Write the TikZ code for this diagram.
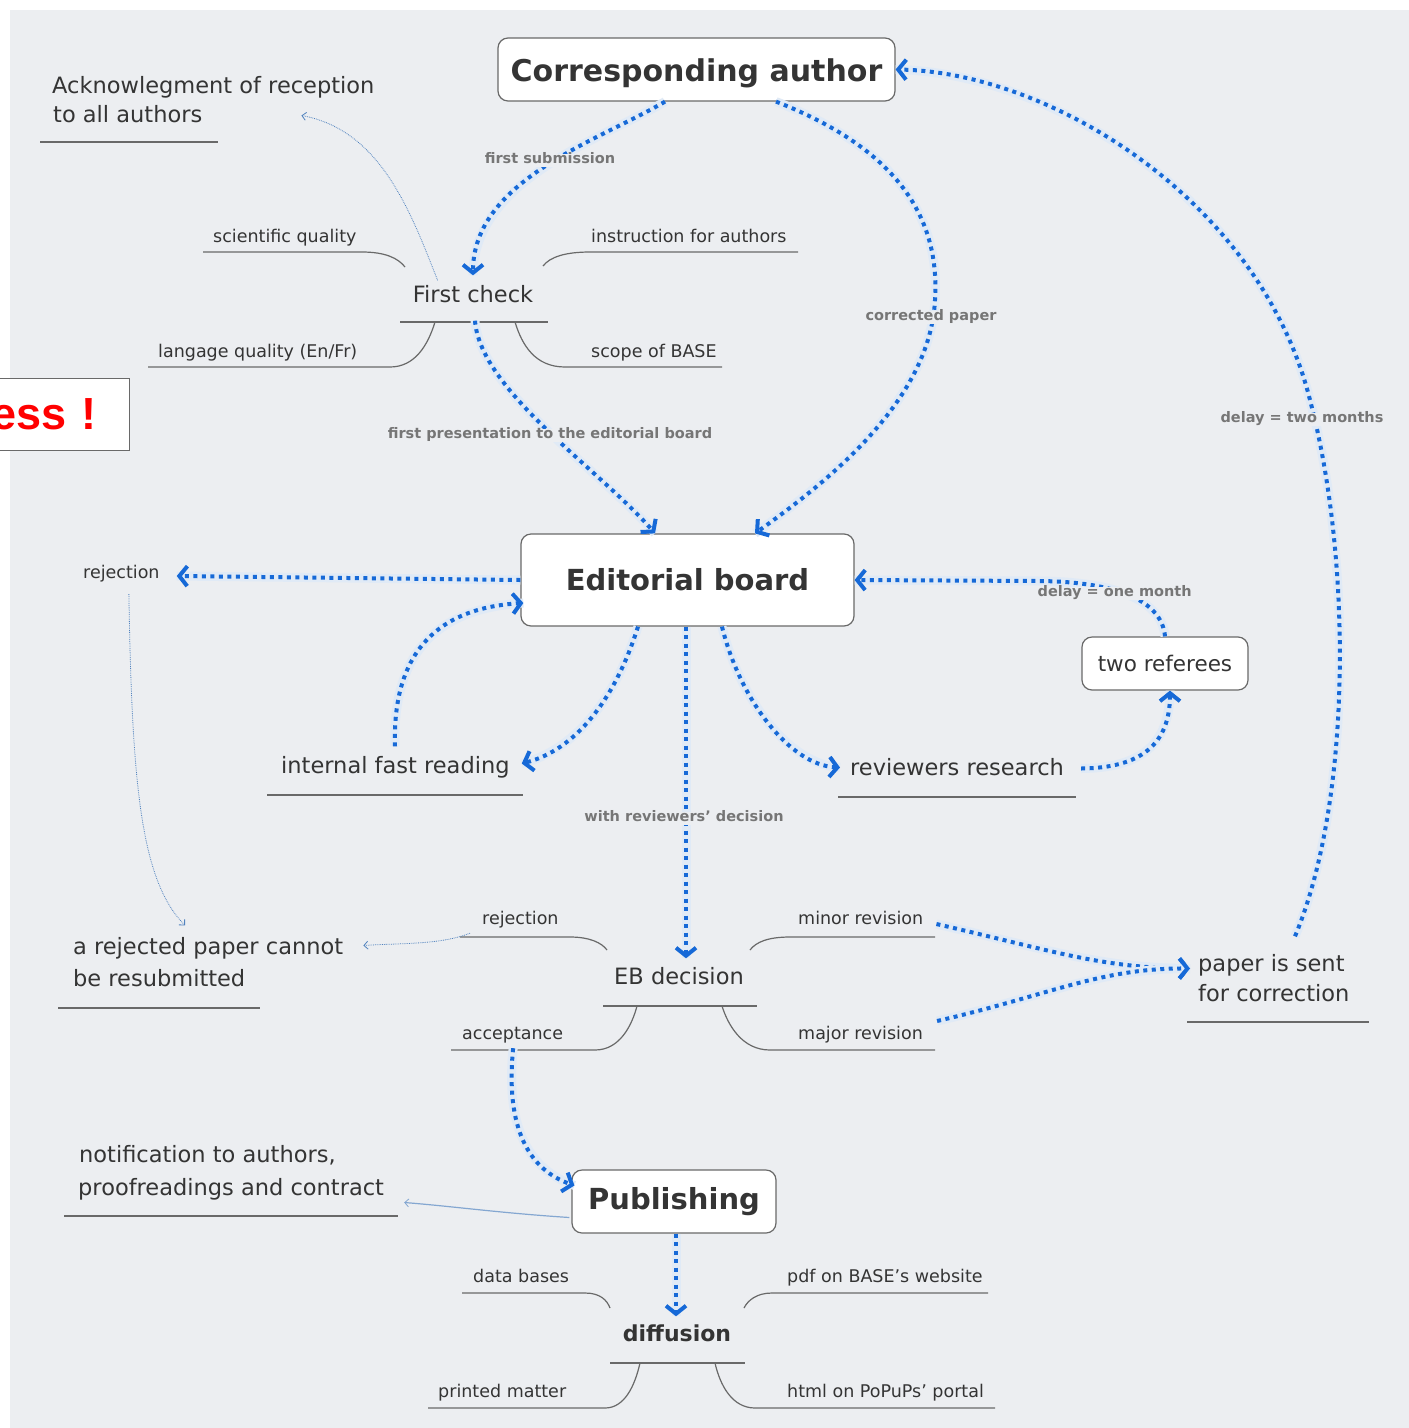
\documentclass[tikz,border=0pt]{standalone}
\usepackage{fontspec}
\setmainfont{DejaVu Sans}
\newfontfamily\arialfont{Liberation Sans}
\usetikzlibrary{arrows.meta,calc}

\definecolor{bg}{RGB}{236,238,241}
\definecolor{ink}{RGB}{52,52,52}
\definecolor{lbl}{RGB}{118,118,118}
\definecolor{uln}{RGB}{105,105,105}
\definecolor{flowblue}{RGB}{22,105,215}
\definecolor{halo}{RGB}{224,234,246}
\definecolor{thinblue}{RGB}{80,130,190}
\definecolor{essred}{RGB}{255,0,0}

\tikzset{
  topic/.style={inner sep=0pt, text height=0.75em, text depth=0.25em, text=ink, yshift=-5.5pt,
    font=\fontsize{22.5}{26}\selectfont},
  subtopic/.style={inner sep=0pt, text height=0.75em, text depth=0.25em, text=ink, yshift=-4pt,
    font=\fontsize{17.5}{20}\selectfont},
  lab/.style={inner sep=1.5pt, fill=bg, text height=0.75em, text depth=0.25em, text=lbl, yshift=-3.5pt,
    font=\bfseries\fontsize{14.5}{17}\selectfont},
  bigbox/.style={draw=uln, fill=white, rounded corners=10pt, line width=1.2pt, inner sep=0pt,
    text=ink, font=\bfseries\fontsize{30}{34}\selectfont},
  smallbox/.style={draw=uln, fill=white, rounded corners=10pt, line width=1.2pt, inner sep=0pt,
    text=ink, font=\fontsize{21.5}{26}\selectfont},
  uline/.style={draw=uln, line width=1.2pt},
  flow/.style={draw=flowblue, line width=4pt, dash pattern=on 4pt off 4.5pt,
    preaction={draw=halo, line width=9pt, solid, -},
    -{Straight Barb[length=8pt,width=20pt,line width=4pt]}},
  thinlink/.style={draw=thinblue, line width=0.8pt, densely dotted,
    -{Straight Barb[length=4pt,width=8pt,line width=0.8pt]}},
  thinsolid/.style={draw=thinblue!70, line width=1.2pt,
    -{Straight Barb[length=4pt,width=8pt,line width=0.8pt]}},
  essbox/.style={draw=uln, fill=white, line width=1pt, inner ysep=0pt, inner xsep=33pt,
    minimum height=72pt, text width=170pt, align=right, text=essred,
    font=\arialfont\bfseries\fontsize{45}{50}\selectfont},
}

\begin{document}
\begin{tikzpicture}[x=1pt,y=-1pt]
\useasboundingbox (0,0) rectangle (1409,1428);
\clip (0,0) rectangle (1409,1428);
\fill[white] (0,0) rectangle (1409,1428);
\fill[bg] (10,10) rectangle (1409,1428);

% ---------- nodes ----------
\node[bigbox, minimum width=397pt, minimum height=63pt, text height=23pt, text depth=0pt] (ca) at (696.5,69.5) {Corresponding author};
\node[topic, anchor=west] (ackA) at (52,85) {Acknowlegment of reception};
\node[topic, anchor=west] (ackB) at (53,114) {to all authors};
\node[topic] (fc) at (473,294) {First check};
\node[subtopic, anchor=west] (sq) at (213,236) {scientific quality};
\node[subtopic, anchor=west] (ifa) at (591,236) {instruction for authors};
\node[subtopic, anchor=west] (lq) at (158,351) {langage quality (En/Fr)};
\node[subtopic, anchor=west] (sb) at (591,351) {scope of BASE};

\node[bigbox, minimum width=333pt, minimum height=92pt, font=\bfseries\fontsize{29}{34}\selectfont] (eb) at (687.5,580) {Editorial board};
\node[subtopic, anchor=west] (rej1) at (83,572) {rejection};
\node[topic, anchor=west] (ifr) at (281,765) {internal fast reading};
\node[topic, anchor=west] (rr) at (850,767) {reviewers research};
\node[smallbox, minimum width=166pt, minimum height=53pt] (tr) at (1165,663.5) {two referees};

\node[topic] (ebd) at (679,976) {EB decision};
\node[subtopic, anchor=west] (rej2) at (482,918) {rejection};
\node[subtopic, anchor=west] (minr) at (798,918) {minor revision};
\node[subtopic, anchor=west] (acc) at (462,1033) {acceptance};
\node[subtopic, anchor=west] (majr) at (798,1033) {major revision};
\node[topic, anchor=west] (rjpA) at (73,946) {a rejected paper cannot};
\node[topic, anchor=west] (rjpB) at (73,978) {be resubmitted};
\node[topic, anchor=west] (pcA) at (1198,963) {paper is sent};
\node[topic, anchor=west] (pcB) at (1198,993) {for correction};

\node[topic, anchor=west] (notA) at (79,1154) {notification to authors,};
\node[topic, anchor=west] (notB) at (78,1187) {proofreadings and contract};
\node[bigbox, minimum width=204pt, minimum height=63pt, font=\bfseries\fontsize{29}{34}\selectfont] (pub) at (674,1201.5) {Publishing};
\node[subtopic, anchor=west] (db) at (473,1276) {data bases};
\node[subtopic, anchor=west] (pdf) at (787,1276) {pdf on BASE's website};
\node[topic, font=\bfseries\fontsize{22}{26}\selectfont] (dif) at (677,1333) {diffusion};
\node[subtopic, anchor=west] (pm) at (438,1391) {printed matter};
\node[subtopic, anchor=west] (html) at (787,1391) {html on PoPuPs' portal};

\node[essbox, anchor=east] (ess) at (130,414) {ess !};

% ---------- underlines of topics ----------
\draw[uline] (40,142) -- (218,142);
\draw[uline] (203,252) -- (362,252) .. controls (385,252) and (398,258) .. (405,267);
\draw[uline] (543,266) .. controls (550,257) and (565,252) .. (590,252) -- (798,252);
\draw[uline] (400,322) -- (548,322);
\draw[uline] (148,367) -- (390,367) .. controls (415,367) and (428,345) .. (435,322);
\draw[uline] (515,322) .. controls (522,345) and (535,367) .. (565,367) -- (722,367);
\draw[uline] (267,795) -- (523,795);
\draw[uline] (838,797) -- (1076,797);
\draw[uline] (460,937) -- (570,937) .. controls (590,937) and (602,943) .. (607,950);
\draw[uline] (750,950) .. controls (756,942) and (768,937) .. (790,937) -- (935,937);
\draw[uline] (603,1006) -- (757,1006);
\draw[uline] (451,1050) -- (595,1050) .. controls (620,1050) and (632,1025) .. (637,1006);
\draw[uline] (722,1006) .. controls (728,1025) and (742,1050) .. (770,1050) -- (935,1050);
\draw[uline] (58,1008) -- (260,1008);
\draw[uline] (1187,1022) -- (1369,1022);
\draw[uline] (64,1216) -- (398,1216);
\draw[uline] (462,1293) -- (585,1293) .. controls (600,1293) and (607,1300) .. (610,1308);
\draw[uline] (744,1308) .. controls (748,1300) and (757,1293) .. (772,1293) -- (988,1293);
\draw[uline] (610,1363) -- (745,1363);
\draw[uline] (428,1408) -- (605,1408) .. controls (625,1408) and (635,1385) .. (640,1363);
\draw[uline] (715,1363) .. controls (720,1385) and (732,1408) .. (755,1408) -- (995,1408);

% ---------- thin links ----------
\draw[thinlink] ($(fc.north west)+(25,-14)$) .. controls (410,210) and (380,130) .. ($(ackB.east)+(99,-4)$);
\draw[thinlink] ($(rej1.south)+(7.5,13)$) .. controls (132,780) and (140,880) .. ($(rjpA.north west)+(112,-21)$);
\draw[thinlink] ($(rej2.south west)+(-12,6)$) .. controls (440,945) and (400,943) .. ($(rjpA.east)+(20,-6)$);
\draw[thinsolid] ($(pub.west)+(-2,16)$) .. controls (500,1213) and (450,1206) .. ($(notB.east)+(20,10)$);

% ---------- flows ----------
\draw[flow] ($(ca.south)+(-31.5,0)$) .. controls (600,140) and (473,180) .. ($(fc.north)+(0,-19)$);
\draw[flow] ($(ca.south)+(79.5,0)$) .. controls (900,150) and (940,220) .. (935,300)
  .. controls (930,400) and (830,480) .. ($(eb.north)+(67.5,0)$);
\draw[flow] ($(fc.south)+(2,16)$) .. controls (480,390) and (600,470) .. ($(eb.north)+(-32.5,0)$);
\draw[flow] (eb.west) -- ($(rej1.east)+(17,0)$);
\draw[flow] ($(eb.south)+(-49.5,0)$) .. controls (615,700) and (575,750) .. ($(ifr.east)+(12,-7)$);
\draw[flow] ($(ifr.north west)+(114,-19)$) .. controls (392,650) and (440,608) .. ($(eb.west)+(3,23)$);
\draw[flow] ($(eb.south)+(34.5,0)$) .. controls (740,700) and (790,765) .. ($(rr.west)+(-10,-5)$);
\draw[flow] ($(rr.east)+(17,-4)$) .. controls (1140,768) and (1170,745) .. ($(tr.south)+(5,0)$);
\draw[flow] (tr.north) .. controls (1162,602) and (1120,582) .. (1040,581) -- (eb.east);
\draw[flow] ($(pcA.north west)+(97,-27)$) .. controls (1352,800) and (1352,560) .. (1310,400)
  .. controls (1260,200) and (1050,72) .. (ca.east);
\draw[flow] ($(eb.south)+(-1.5,0)$) -- ($(ebd.north)+(7,-18)$);
\draw[flow] ($(minr.east)+(13,2)$) .. controls (1050,950) and (1100,968) .. ($(pcA.west)+(-8,0)$);
\draw[flow] ($(majr.east)+(14,-16)$) .. controls (1050,995) and (1100,968) .. ($(pcA.west)+(-8,0)$);
\draw[flow] ($(acc.south)+(0.5,6)$) .. controls (505,1130) and (530,1170) .. ($(pub.west)+(3,-16)$);
\draw[flow] ($(pub.south)+(2,0)$) -- ($(dif.north)+(-1,-17)$);

% ---------- connector labels ----------
\node[lab] (l1) at (550,157) {first submission};
\node[lab] (l2) at (931,314) {corrected paper};
\node[lab] (l3) at (550,432) {first presentation to the editorial board};
\node[lab, anchor=west] (l4) at (1036,590) {delay = one month};
\node[lab] (l5) at (1302,416) {delay = two months};
\node[lab] (l6) at (684,815) {with reviewers' decision};
\end{tikzpicture}
\end{document}
